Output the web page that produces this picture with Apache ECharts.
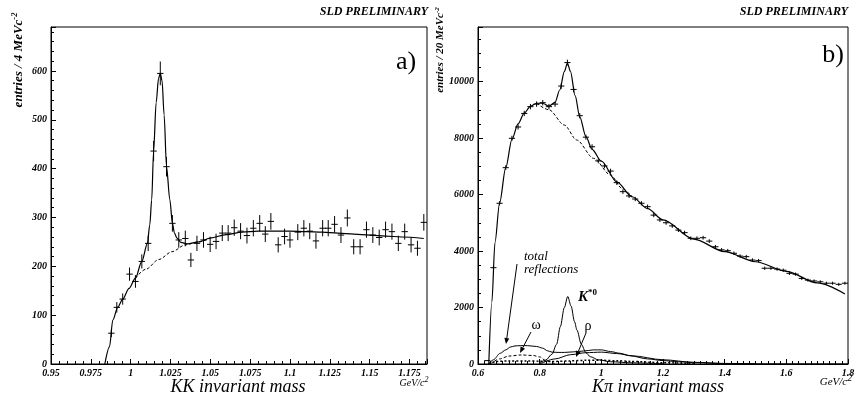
<!DOCTYPE html>
<html>
<head>
<meta charset="utf-8">
<script src="https://cdn.jsdelivr.net/npm/echarts@6.0.0/dist/echarts.min.js"></script>
<style>
  html, body { margin: 0; padding: 0; background: #fff; }
  #chart { width: 858px; height: 404px; }
</style>
</head>
<body>
<div id="chart"></div>
<script>
// panel a) KK invariant mass, 4 MeV bins
var kkMass = [0.9879, 0.9913, 0.995, 0.9993, 1.003, 1.007, 1.011, 1.0144, 1.0186, 1.0225,
  1.0262, 1.0302, 1.0343, 1.0378, 1.0416, 1.0457, 1.0499, 1.0536, 1.0575, 1.0612,
  1.065, 1.069, 1.073, 1.077, 1.081, 1.0845, 1.088, 1.0926, 1.0966, 1.1,
  1.1049, 1.1087, 1.1124, 1.1163, 1.1205, 1.124, 1.128, 1.132, 1.136, 1.14,
  1.144, 1.148, 1.152, 1.156, 1.16, 1.164, 1.168, 1.172, 1.176, 1.18, 1.184];
var kkCounts = [63, 116, 133, 184, 169, 210, 247, 436, 595, 404,
  288, 254, 257, 213, 247, 254, 245, 251, 268, 268,
  279, 272, 263, 278, 288, 266, 292, 244, 261, 254,
  270, 278, 272, 252, 278, 278, 286, 264, 299, 240,
  240, 275, 264, 259, 275, 271, 247, 271, 244, 237, 290];
var kkFitX = [0.9838, 0.9867, 0.9888, 0.992, 0.995, 0.999, 1.003, 1.007, 1.0105, 1.012,
  1.0132, 1.0144, 1.016, 1.0175, 1.0186, 1.0197, 1.021, 1.0225, 1.0246, 1.0262,
  1.0275, 1.029, 1.0315, 1.0355, 1.0427, 1.05, 1.06, 1.07, 1.08, 1.09,
  1.1, 1.11, 1.12, 1.13, 1.14, 1.15, 1.16, 1.17, 1.184];
var kkFitY = [0, 35, 90, 117, 133, 155, 176, 210, 247, 285,
  336, 436, 535, 585, 595, 580, 510, 404, 336, 288,
  268, 258, 249, 246, 250, 258, 265, 270, 272, 272,
  272, 271, 270, 268, 266, 264, 262, 260, 257];
var kkBgX = [1.003, 1.0095, 1.0177, 1.026, 1.0343, 1.0427, 1.05];
var kkBgY = [176, 194, 214, 230, 244, 250, 258];

// panel b) K-pi invariant mass, 20 MeV bins
var kpMass = [0.63, 0.65, 0.67, 0.69, 0.71, 0.73, 0.75, 0.77, 0.79, 0.81,
  0.83, 0.85, 0.87, 0.89, 0.91, 0.93, 0.95, 0.97, 0.99, 1.01,
  1.03, 1.05, 1.07, 1.09, 1.11, 1.13, 1.15, 1.17, 1.19, 1.21,
  1.23, 1.25, 1.27, 1.29, 1.31, 1.33, 1.35, 1.37, 1.39, 1.41,
  1.43, 1.45, 1.47, 1.49, 1.51, 1.53, 1.55, 1.57, 1.59, 1.61,
  1.63, 1.65, 1.67, 1.69, 1.71, 1.73, 1.75, 1.77, 1.79];
var kpCounts = [120, 3410, 5690, 6950, 7990, 8390, 8870, 9110, 9200, 9250,
  9110, 9200, 9840, 10670, 9720, 8790, 8030, 7690, 7190, 7010,
  6830, 6420, 6100, 5950, 5840, 5690, 5570, 5270, 5100, 5000,
  4890, 4740, 4650, 4450, 4450, 4470, 4350, 4150, 4040, 4010,
  3920, 3820, 3800, 3680, 3660, 3390, 3390, 3360, 3320, 3210,
  3180, 3030, 2970, 2940, 2910, 2860, 2860, 2820, 2860];
var kpFitX = [0.635, 0.645, 0.655, 0.67, 0.69, 0.71, 0.73, 0.75, 0.77, 0.79,
  0.81, 0.83, 0.85, 0.865, 0.88, 0.89, 0.9, 0.915, 0.93, 0.95,
  0.97, 1.0, 1.05, 1.1, 1.15, 1.2, 1.3, 1.4, 1.5, 1.6, 1.7, 1.79];
var kpFitY = [0, 2200, 4300, 5700, 6950, 7950, 8500, 8880, 9120, 9230,
  9230, 9130, 9260, 9700, 10350, 10650, 10350, 9500, 8750, 8050,
  7600, 7180, 6450, 5920, 5500, 5100, 4420, 3980, 3620, 3280, 2870, 2480];
var kpBgX = [0.79, 0.83, 0.88, 0.92, 0.975, 1.03, 1.067, 1.1];
var kpBgY = [9230, 9000, 8460, 7930, 7280, 6690, 6220, 5900];
var reflX = [0.635, 0.65, 0.672, 0.69, 0.705, 0.72, 0.737, 0.76, 0.79, 0.81,
  0.825, 0.84, 0.86, 0.88, 0.91, 0.943, 0.975, 1.0, 1.03, 1.06,
  1.094, 1.15, 1.2, 1.25, 1.31, 1.4, 1.5, 1.8];
var reflY = [0, 150, 380, 500, 600, 640, 650, 650, 620, 560,
  470, 420, 410, 410, 430, 460, 500, 500, 440, 380,
  290, 180, 120, 80, 45, 15, 5, 0];
var omegaX = [0.64, 0.67, 0.7, 0.74, 0.78, 0.8, 0.82, 0.85];
var omegaY = [0, 180, 280, 320, 300, 250, 120, 0];
var rhoX = [0.8, 0.85, 0.9, 0.95, 1.0, 1.05, 1.1, 1.2, 1.3, 1.4, 1.5];
var rhoY = [0, 180, 330, 400, 420, 370, 290, 150, 60, 20, 5];
var kstX = [0.8, 0.82, 0.84, 0.855, 0.867, 0.88, 0.891, 0.902, 0.913, 0.921,
  0.935, 0.95, 0.964, 0.99, 1.03, 1.1, 1.2];
var kstY = [30, 140, 350, 700, 1320, 2000, 2390, 2050, 1500, 1200,
  700, 400, 260, 150, 80, 40, 10];
var otherX = [0.635, 0.66, 0.7, 0.76, 0.8, 0.84, 0.9, 0.95, 1.0, 1.05, 1.1, 1.2, 1.3];
var otherY = [0, 90, 110, 110, 100, 90, 110, 130, 130, 115, 90, 45, 15];

var SERIF = '"Liberation Serif", "DejaVu Serif", serif';

function pairs(xs, ys) {
  return xs.map(function (x, i) { return [x, ys[i]]; });
}

function errData(xs, ys, hw) {
  return xs.map(function (x, i) { return [x, ys[i], Math.sqrt(ys[i]), hw]; });
}

function renderErr(params, api) {
  var x = api.value(0), y = api.value(1), e = api.value(2), hw = api.value(3);
  var top = api.coord([x, y + e]);
  var bot = api.coord([x, Math.max(0, y - e)]);
  var l = api.coord([x - hw, y]);
  var r = api.coord([x + hw, y]);
  var st = { stroke: '#000', lineWidth: 1 };
  return {
    type: 'group',
    children: [
      { type: 'line', shape: { x1: top[0], y1: top[1], x2: bot[0], y2: bot[1] }, style: st },
      { type: 'line', shape: { x1: l[0], y1: l[1], x2: r[0], y2: r[1] }, style: st }
    ]
  };
}

function curve(idx, data, width, dash) {
  return {
    type: 'line',
    xAxisIndex: idx,
    yAxisIndex: idx,
    data: data,
    showSymbol: false,
    smooth: 0.3,
    smoothMonotone: 'x',
    silent: true,
    lineStyle: { color: '#000', width: width, type: dash || 'solid' }
  };
}

function arrow(x1, y1, x2, y2) {
  var a = Math.atan2(y2 - y1, x2 - x1), L = 6, W = 2.5;
  var bx = x2 - L * Math.cos(a), by = y2 - L * Math.sin(a);
  var px = -Math.sin(a) * W, py = Math.cos(a) * W;
  return [
    { type: 'line', shape: { x1: x1, y1: y1, x2: bx, y2: by }, style: { stroke: '#000', lineWidth: 1 } },
    { type: 'polygon', shape: { points: [[x2, y2], [bx + px, by + py], [bx - px, by - py]] }, style: { fill: '#000' } }
  ];
}

var labelFont = { color: '#000', fontFamily: SERIF, fontStyle: 'italic', fontWeight: 'bold', fontSize: 10 };

function xAxisCfg(idx, min, max, interval, minorSplit) {
  return {
    gridIndex: idx, type: 'value', min: min, max: max, interval: interval,
    axisLine: { onZero: false, lineStyle: { color: '#000', width: 1 } },
    axisTick: { inside: true, length: 5, lineStyle: { color: '#000' } },
    minorTick: { show: true, splitNumber: minorSplit, length: 3, lineStyle: { color: '#000' } },
    splitLine: { show: false },
    axisLabel: Object.assign({ margin: 4, showMaxLabel: idx === 1,
      formatter: function (v) { return String(+v.toFixed(3)); } }, labelFont)
  };
}

function yAxisCfg(idx, max, interval, minorSplit) {
  return {
    gridIndex: idx, type: 'value', min: 0, max: max, interval: interval,
    axisLine: { show: true, lineStyle: { color: '#000', width: 1 } },
    axisTick: { inside: true, length: 5, lineStyle: { color: '#000' } },
    minorTick: { show: true, splitNumber: minorSplit, length: 3, lineStyle: { color: '#000' } },
    splitLine: { show: false },
    axisLabel: Object.assign({ margin: 4, showMaxLabel: false,
      formatter: function (v) { return String(Math.round(v)); } }, labelFont)
  };
}

function ytitle(x, y, n, size) {
  return {
    type: 'text', x: x, y: y, rotation: Math.PI / 2,
    style: {
      text: '{a|entries / ' + n + ' MeVc}{s|-2}',
      align: 'center', verticalAlign: 'middle',
      rich: {
        a: { fontFamily: SERIF, fontStyle: 'italic', fontWeight: 'bold', fontSize: size, fill: '#000' },
        s: { fontFamily: SERIF, fontStyle: 'italic', fontWeight: 'bold', fontSize: size * 0.65, fill: '#000', verticalAlign: 'top', padding: [0, 0, size * 0.6, 0] }
      }
    }
  };
}

function txt(x, y, s, size, opts) {
  return {
    type: 'text', x: x, y: y,
    style: Object.assign({
      text: s, fontFamily: SERIF, fontStyle: 'italic', fontSize: size, fill: '#000',
      align: 'center', verticalAlign: 'middle'
    }, opts || {})
  };
}

var chart = echarts.init(document.getElementById('chart'));
var graphics = [
  txt(428, 12, 'SLD PRELIMINARY', 12, { fontWeight: 'bold', align: 'right' }),
  txt(848, 12, 'SLD PRELIMINARY', 12, { fontWeight: 'bold', align: 'right' }),
  ytitle(19, 60, '4', 13),
  ytitle(440, 50, '20', 11),
  txt(406, 62, 'a)', 26, { fontStyle: 'normal' }),
  txt(833, 55, 'b)', 26, { fontStyle: 'normal' }),
  txt(238, 387, 'KK invariant mass', 18),
  txt(658, 387, 'K\u03c0 invariant mass', 18),
  {
    type: 'text', x: 414, y: 383,
    style: { text: '{a|GeV/c}{s|2}', align: 'center', verticalAlign: 'middle',
      rich: { a: { fontFamily: SERIF, fontStyle: 'italic', fontSize: 10, fill: '#000' },
              s: { fontFamily: SERIF, fontStyle: 'italic', fontSize: 8, fill: '#000', padding: [0, 0, 6, 0] } } }
  },
  {
    type: 'text', x: 836, y: 382,
    style: { text: '{a|GeV/c}{s|2}', align: 'center', verticalAlign: 'middle',
      rich: { a: { fontFamily: SERIF, fontStyle: 'italic', fontSize: 11, fill: '#000' },
              s: { fontFamily: SERIF, fontStyle: 'italic', fontSize: 10, fill: '#000', padding: [0, 0, 7, 0] } } }
  },
  txt(524, 257, 'total', 13, { align: 'left' }),
  txt(524, 270, 'reflections', 13, { align: 'left' }),
  txt(536, 325, '\u03c9', 14, { fontStyle: 'normal' }),
  {
    type: 'text', x: 578, y: 297,
    style: { text: '{a|K}{s|*0}', align: 'left', verticalAlign: 'middle',
      rich: { a: { fontFamily: SERIF, fontStyle: 'italic', fontWeight: 'bold', fontSize: 15, fill: '#000' },
              s: { fontFamily: SERIF, fontWeight: 'bold', fontSize: 9, fill: '#000', padding: [0, 0, 9, 0] } } }
  },
  txt(588, 326, '\u03c1', 14, { fontStyle: 'normal' })
];
graphics = graphics
  .concat(arrow(517, 264, 506, 344))
  .concat(arrow(531, 332, 520, 353))
  .concat(arrow(586, 333, 576, 357));

chart.setOption({
  animation: false,
  backgroundColor: '#fff',
  grid: [
    { left: 51, top: 27, width: 376, height: 337, show: true, borderColor: '#000', borderWidth: 1, backgroundColor: 'transparent' },
    { left: 478, top: 27, width: 370, height: 337, show: true, borderColor: '#000', borderWidth: 1, backgroundColor: 'transparent' }
  ],
  xAxis: [
    xAxisCfg(0, 0.95, 1.186, 0.025, 5),
    xAxisCfg(1, 0.6, 1.8, 0.2, 10)
  ],
  yAxis: [
    yAxisCfg(0, 690, 100, 5),
    yAxisCfg(1, 11930, 2000, 4)
  ],
  series: [
    curve(0, pairs(kkFitX, kkFitY), 1.2),
    curve(0, pairs(kkBgX, kkBgY), 1, [3, 2]),
    { type: 'custom', xAxisIndex: 0, yAxisIndex: 0, renderItem: renderErr, data: errData(kkMass, kkCounts, 0.002), clip: true, silent: true },
    curve(1, pairs(kpFitX, kpFitY), 1.2),
    curve(1, pairs(kpBgX, kpBgY), 1, [3, 2]),
    curve(1, pairs(reflX, reflY), 1),
    curve(1, pairs(omegaX, omegaY), 1, [3, 2]),
    curve(1, pairs(rhoX, rhoY), 1),
    curve(1, pairs(kstX, kstY), 1),
    curve(1, pairs(otherX, otherY), 1.5, [2, 2]),
    { type: 'custom', xAxisIndex: 1, yAxisIndex: 1, renderItem: renderErr, data: errData(kpMass, kpCounts, 0.01), clip: true, silent: true }
  ],
  graphic: graphics
});
</script>
</body>
</html>
